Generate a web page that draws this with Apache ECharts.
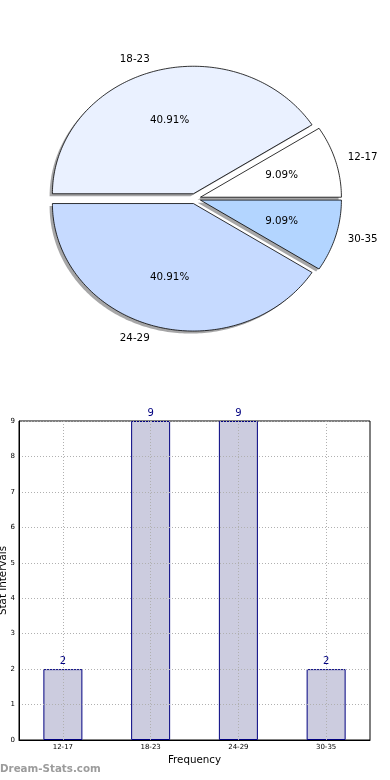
<!DOCTYPE html>
<html><head><meta charset="utf-8">
<script src="https://cdn.jsdelivr.net/npm/echarts@6/dist/echarts.min.js"></script>
<style>html,body{margin:0;padding:0;background:#fff}#c{width:390px;height:780px}</style>
</head><body><div id="c"></div>
<script>
// ---- data ----
const categories = ['12-17', '18-23', '24-29', '30-35'];
const counts = [2, 9, 9, 2];
const sliceColors = ['#ffffff', '#eaf1ff', '#c6daff', '#b3d5ff'];
const yAxisTitle = 'Stat Intervals';
const xAxisTitle = 'Frequency';
const watermark = 'Dream-Stats.com';

const FONT = '"DejaVu Sans", sans-serif';
const total = counts.reduce((a, b) => a + b, 0);
const starts = [];
{ let acc = 0; counts.forEach(v => { starts.push(acc / total * 360); acc += v; }); }
const explode = 0.04;

function renderSlice(params, api) {
  const i = params.dataIndex;
  const v = api.value(1);
  const a0 = starts[i] * Math.PI / 180;
  const a1 = (starts[i] + v / total * 360) * Math.PI / 180;
  const mid = (a0 + a1) / 2;
  const ox = explode * Math.cos(mid), oy = explode * Math.sin(mid);
  const n = Math.max(6, Math.ceil((a1 - a0) / (Math.PI / 180)));
  const pts = [], sh = [];
  pts.push(api.coord([ox, oy])); sh.push(api.coord([ox - 0.02, oy - 0.02]));
  for (let k = 0; k <= n; k++) {
    const t = a0 + (a1 - a0) * k / n;
    pts.push(api.coord([ox + Math.cos(t), oy + Math.sin(t)]));
    sh.push(api.coord([ox + Math.cos(t) - 0.02, oy + Math.sin(t) - 0.02]));
  }
  const pctPos = api.coord([ox + 0.6 * Math.cos(mid), oy + 0.6 * Math.sin(mid)]);
  const labPos = api.coord([ox + 1.1 * Math.cos(mid), oy + 1.1 * Math.sin(mid)]);
  const pct = (v / total * 100).toFixed(2) + '%';
  return {
    type: 'group',
    children: [
      { type: 'polygon', z2: 0, shape: { points: sh }, style: { fill: 'rgba(77,77,80,0.5)' } },
      { type: 'polygon', z2: 10, shape: { points: pts }, style: { fill: sliceColors[i], stroke: '#000', lineWidth: 0.8 } },
      { type: 'text', z2: 20, x: pctPos[0], y: pctPos[1], style: { text: pct, fill: '#000', font: '10.3px ' + FONT, align: 'center', verticalAlign: 'middle' } },
      { type: 'text', z2: 20, x: labPos[0] - (Math.cos(mid) > 0 ? 1.5 : 0), y: labPos[1], style: { text: categories[i], fill: '#000', font: '10.3px ' + FONT, align: Math.cos(mid) > 0 ? 'left' : 'right', verticalAlign: 'middle' } }
    ]
  };
}

const dotted = { color: '#b0b0b0', width: 1, type: [1, 2] };

const chart = echarts.init(document.getElementById('c'), null, { renderer: 'canvas' });
chart.setOption({
  animation: false,
  backgroundColor: '#fff',
  textStyle: { fontFamily: FONT },
  grid: [
    { left: 0, width: 390, top: 45.65, height: 306, show: false, outerBoundsMode: 'none', containLabel: false },
    { left: 19, right: 20, top: 421, bottom: 40, show: true, borderColor: '#000', borderWidth: 1, backgroundColor: 'transparent', outerBoundsMode: 'none', containLabel: false }
  ],
  xAxis: [
    { gridIndex: 0, type: 'value', min: -1.383, max: 1.383, show: false },
    {
      gridIndex: 1, type: 'category', data: categories, z: 10,
      name: xAxisTitle, nameLocation: 'middle', nameGap: 15, nameMoveOverlap: false,
      nameTextStyle: { fontSize: 10.3, color: '#000', fontFamily: FONT },
      axisLine: { show: true, lineStyle: { color: '#000', width: 1 } },
      axisTick: { show: false },
      axisLabel: { fontSize: 7, color: '#000', margin: 4, fontFamily: FONT },
      splitLine: { show: true, alignWithLabel: true, lineStyle: dotted }
    }
  ],
  yAxis: [
    { gridIndex: 0, type: 'value', min: -1.2, max: 1.2, show: false },
    {
      gridIndex: 1, type: 'value', min: 0, max: 9, interval: 1, z: 10,
      name: yAxisTitle, nameLocation: 'middle', nameGap: 11, nameRotate: 90, nameMoveOverlap: false,
      nameTextStyle: { fontSize: 10.3, color: '#000', fontFamily: FONT },
      axisLine: { show: true, lineStyle: { color: '#000', width: 1 } },
      axisTick: { show: false },
      axisLabel: { fontSize: 7, color: '#000', margin: 4, fontFamily: FONT },
      splitLine: { show: true, lineStyle: dotted }
    }
  ],
  series: [
    {
      type: 'custom', xAxisIndex: 0, yAxisIndex: 0,
      renderItem: renderSlice,
      data: categories.map((c, i) => [i, counts[i]])
    },
    {
      type: 'bar', xAxisIndex: 1, yAxisIndex: 1,
      data: counts, barWidth: 39,
      itemStyle: { color: '#ccccdf', borderColor: '#000080', borderWidth: 1 },
      label: { show: true, position: 'top', distance: 3, color: '#000080', fontSize: 10, fontFamily: FONT }
    }
  ],
  graphic: [
    { type: 'text', left: 0, top: 764, style: { text: watermark, font: 'bold 10.3px ' + FONT, fill: '#9c9c9c' } }
  ]
});
</script></body></html>
